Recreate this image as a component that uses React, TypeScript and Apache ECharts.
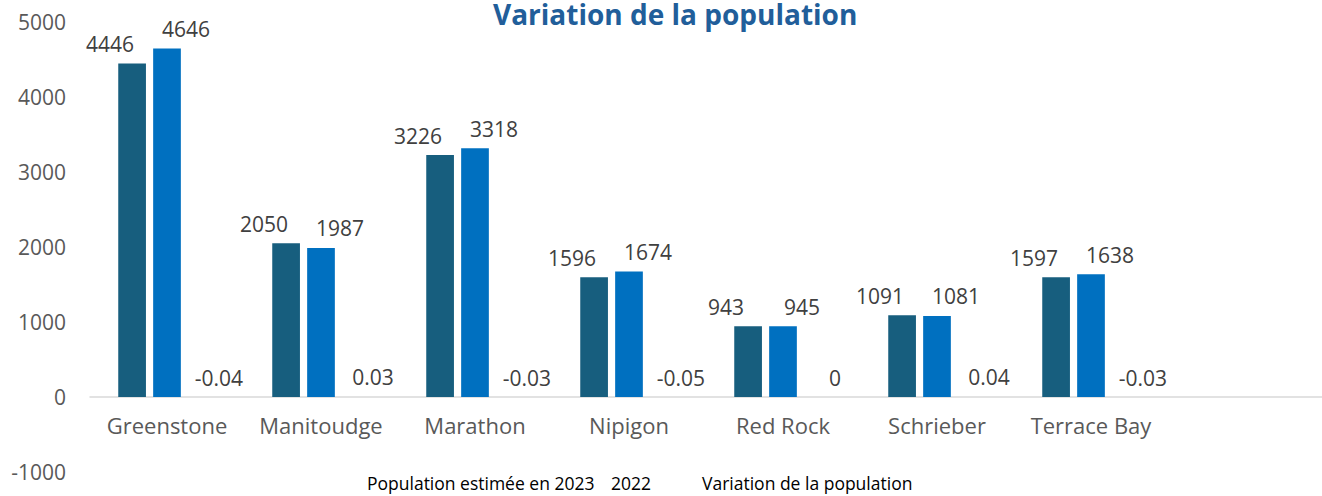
import React, { useEffect, useRef } from "react";
import * as echarts from "echarts";

const categories = ["Greenstone", "Manitoudge", "Marathon", "Nipigon", "Red Rock", "Schrieber", "Terrace Bay", ""];
const pop2023 = [4446, 2050, 3226, 1596, 943, 1091, 1597, null];
const pop2022 = [4646, 1987, 3318, 1674, 945, 1081, 1638, null];
const variation = [-0.04, 0.03, -0.03, -0.05, 0, 0.04, -0.03, null];
const seriesNames = ["Population estimée en 2023", "2022", "Variation de la population"];
const yTicks = { min: -1000, max: 5000, interval: 1000 };

const FONT = "'Open Sans', 'Liberation Sans', sans-serif";

export default function App() {
  const ref = useRef<HTMLDivElement>(null);
  useEffect(() => {
    if (!ref.current) return;
    const chart = echarts.init(ref.current, null, { renderer: "svg" });
    const labelBase = {
      show: true,
      position: "top",
      distance: 9,
      color: "#404040",
      fontSize: 21,
      fontFamily: FONT,
    };
    const legendText = { color: "#000", fontSize: 17.5, fontFamily: FONT };
    chart.setOption({
      animation: false,
      title: {
        text: "Variation de la population",
        left: 493,
        top: 0,
        padding: 0,
        textStyle: { color: "#215E9A", fontSize: 28, fontWeight: "bold", fontFamily: FONT, lineHeight: 28 },
      },
      legend: [
        { data: [seriesNames[0]], left: 362, top: 474, itemWidth: 0, itemHeight: 0, icon: "rect", padding: 0, textStyle: legendText },
        { data: [seriesNames[1]], left: 606, top: 474, itemWidth: 0, itemHeight: 0, icon: "rect", padding: 0, textStyle: legendText },
        { data: [seriesNames[2]], left: 697, top: 474, itemWidth: 0, itemHeight: 0, icon: "rect", padding: 0, textStyle: legendText },
      ],
      grid: { left: 90, right: -16, top: 22, bottom: 24, containLabel: false },
      xAxis: {
        type: "category",
        data: categories,
        offset: -75,
        axisLine: { onZero: false, lineStyle: { color: "#D9D9D9", width: 1.5 } },
        axisTick: { show: false },
        axisLabel: { color: "#595959", fontSize: 22, fontFamily: FONT, margin: 17, interval: 0 },
      },
      yAxis: {
        type: "value",
        min: yTicks.min,
        max: yTicks.max,
        interval: yTicks.interval,
        splitLine: { show: false },
        axisLine: { show: false },
        axisTick: { show: false },
        axisLabel: { color: "#595959", fontSize: 21, fontFamily: FONT, margin: 24, formatter: (v: number) => String(v) },
      },
      series: [
        {
          name: seriesNames[0],
          type: "bar",
          data: pop2023,
          barWidth: 27.7,
          barGap: "26%",
          itemStyle: { color: "#175E7E" },
          label: { ...labelBase, offset: [-22, 0] },
        },
        {
          name: seriesNames[1],
          type: "bar",
          data: pop2022,
          barWidth: 27.7,
          barGap: "26%",
          itemStyle: { color: "#0070C0" },
          label: { ...labelBase, offset: [19, 0] },
        },
        {
          name: seriesNames[2],
          type: "bar",
          data: variation,
          barWidth: 27.7,
          barGap: "26%",
          itemStyle: { color: "#7F7F7F" },
          label: { ...labelBase, offset: [17, 0] },
        },
      ],
    });
    return () => chart.dispose();
  }, []);
  return (
    <div
      ref={ref}
      style={{ position: "fixed", left: 0, top: 0, width: 1322, height: 496, background: "#fff" }}
    />
  );
}
